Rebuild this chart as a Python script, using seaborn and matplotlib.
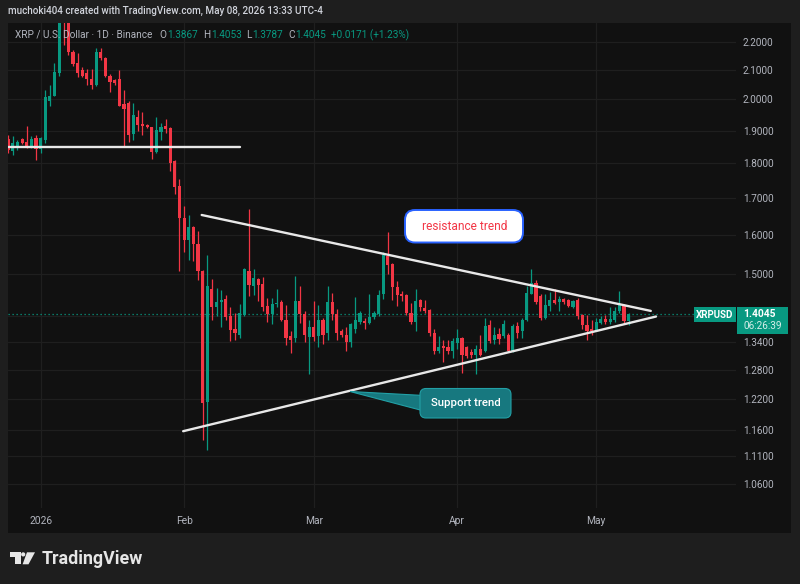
import matplotlib
matplotlib.use("Agg")
import matplotlib.pyplot as plt
import matplotlib.dates as mdates
import matplotlib.transforms as mtransforms
from matplotlib.patches import FancyBboxPatch, Polygon, Circle, Rectangle
from matplotlib.ticker import FixedLocator, NullLocator, FixedFormatter
import numpy as np
import pandas as pd
import seaborn as sns

# ---------------- data ----------------
dates = pd.date_range("2025-12-25", "2026-05-08", freq="D")

opens = [1.875, 1.838, 1.846, 1.874, 1.864, 1.849, 1.876,
         1.842, 1.872, 1.995, 2.012, 2.089, 2.330, 2.285, 2.164, 2.123, 2.098,
         2.089, 2.070, 2.047, 2.164, 2.140, 2.080, 2.066, 2.070, 1.985, 1.987,
         1.889, 1.944, 1.922, 1.918, 1.910, 1.833, 1.897, 1.913, 1.907, 1.807,
         1.733,
         1.644, 1.587, 1.620, 1.575, 1.508, 1.215, 1.464, 1.421, 1.431, 1.439,
         1.399, 1.370, 1.357, 1.402, 1.508, 1.470, 1.487, 1.476, 1.423, 1.403,
         1.427, 1.431, 1.391, 1.354, 1.350, 1.434, 1.403, 1.352,
         1.375, 1.353, 1.390, 1.360, 1.432, 1.403, 1.364, 1.357, 1.340, 1.370,
         1.386, 1.388, 1.383, 1.396, 1.404, 1.452, 1.544, 1.524, 1.467, 1.450,
         1.448, 1.405, 1.386, 1.436, 1.417, 1.414, 1.360, 1.320, 1.332, 1.329,
         1.321,
         1.338, 1.350, 1.329, 1.318, 1.313, 1.326, 1.321, 1.378, 1.344, 1.358,
         1.353, 1.356, 1.321, 1.376, 1.364, 1.390, 1.452, 1.478, 1.447, 1.395,
         1.423, 1.436, 1.431, 1.439, 1.436, 1.420, 1.437, 1.401, 1.379, 1.370,
         1.366, 1.383, 1.393, 1.385, 1.390, 1.410, 1.423, 1.3867]
highs = [1.886, 1.882, 1.872, 1.878, 1.914, 1.882, 1.885,
         1.880, 2.030, 2.050, 2.125, 2.360, 2.410, 2.300, 2.170, 2.158, 2.110,
         2.104, 2.104, 2.176, 2.176, 2.145, 2.086, 2.070, 2.100, 2.030, 1.995,
         1.987, 1.964, 1.960, 1.922, 1.912, 1.942, 1.925, 1.936, 1.910, 1.810,
         1.753,
         1.677, 1.652, 1.622, 1.610, 1.510, 1.548, 1.488, 1.466, 1.460, 1.449,
         1.421, 1.405, 1.427, 1.515, 1.670, 1.513, 1.490, 1.492, 1.441, 1.441,
         1.464, 1.436, 1.425, 1.366, 1.494, 1.470, 1.410, 1.391,
         1.434, 1.425, 1.394, 1.470, 1.454, 1.415, 1.370, 1.373, 1.382, 1.444,
         1.410, 1.395, 1.452, 1.410, 1.460, 1.554, 1.608, 1.526, 1.482, 1.458,
         1.452, 1.430, 1.464, 1.440, 1.437, 1.416, 1.370, 1.354, 1.345, 1.345,
         1.350,
         1.370, 1.352, 1.332, 1.325, 1.333, 1.355, 1.395, 1.390, 1.375, 1.372,
         1.390, 1.360, 1.380, 1.385, 1.395, 1.470, 1.511, 1.485, 1.450, 1.450,
         1.455, 1.463, 1.445, 1.442, 1.440, 1.437, 1.442, 1.403, 1.401, 1.390,
         1.395, 1.400, 1.402, 1.420, 1.420, 1.459, 1.428, 1.4053]
lows = [1.830, 1.826, 1.840, 1.857, 1.845, 1.845, 1.810,
        1.830, 1.862, 1.980, 2.010, 2.080, 2.188, 2.152, 2.115, 2.074, 2.074,
        2.047, 2.036, 2.045, 2.134, 2.074, 2.024, 2.050, 1.978, 1.848, 1.864,
        1.872, 1.900, 1.886, 1.908, 1.813, 1.830, 1.872, 1.893, 1.776, 1.710,
        1.506,
        1.555, 1.535, 1.531, 1.485, 1.140, 1.121, 1.389, 1.399, 1.375, 1.390,
        1.342, 1.345, 1.350, 1.400, 1.447, 1.449, 1.435, 1.411, 1.386, 1.380,
        1.421, 1.388, 1.333, 1.316, 1.340, 1.383, 1.340, 1.271,
        1.342, 1.330, 1.335, 1.345, 1.390, 1.345, 1.352, 1.321, 1.330, 1.360,
        1.380, 1.370, 1.380, 1.393, 1.400, 1.440, 1.500, 1.437, 1.423, 1.435,
        1.402, 1.380, 1.364, 1.410, 1.405, 1.353, 1.315, 1.316, 1.298, 1.315,
        1.305,
        1.325, 1.274, 1.305, 1.306, 1.272, 1.310, 1.318, 1.338, 1.335, 1.337,
        1.350, 1.318, 1.318, 1.350, 1.350, 1.388, 1.450, 1.428, 1.390, 1.392,
        1.410, 1.428, 1.410, 1.428, 1.420, 1.418, 1.392, 1.370, 1.345, 1.355,
        1.364, 1.380, 1.380, 1.380, 1.385, 1.405, 1.380, 1.3787]
closes = [1.840, 1.862, 1.866, 1.861, 1.849, 1.875, 1.842,
          1.876, 2.009, 2.012, 2.092, 2.330, 2.285, 2.164, 2.120, 2.090, 2.080,
          2.070, 2.047, 2.164, 2.140, 2.080, 2.058, 2.056, 1.980, 1.968, 1.886,
          1.948, 1.919, 1.914, 1.911, 1.833, 1.902, 1.912, 1.905, 1.802, 1.731,
          1.644,
          1.585, 1.620, 1.575, 1.508, 1.213, 1.470, 1.420, 1.431, 1.437, 1.396,
          1.368, 1.360, 1.406, 1.511, 1.473, 1.490, 1.473, 1.421, 1.403, 1.428,
          1.430, 1.391, 1.350, 1.344, 1.434, 1.403, 1.357, 1.375,
          1.352, 1.390, 1.356, 1.431, 1.404, 1.361, 1.356, 1.340, 1.380, 1.390,
          1.406, 1.384, 1.397, 1.405, 1.449, 1.548, 1.521, 1.467, 1.448, 1.445,
          1.405, 1.386, 1.434, 1.421, 1.411, 1.360, 1.321, 1.330, 1.327, 1.320,
          1.342,
          1.350, 1.313, 1.310, 1.311, 1.326, 1.312, 1.376, 1.342, 1.356, 1.346,
          1.380, 1.321, 1.376, 1.360, 1.391, 1.454, 1.478, 1.431, 1.395, 1.425,
          1.436, 1.430, 1.440, 1.431, 1.423, 1.434, 1.399, 1.379, 1.364, 1.364,
          1.386, 1.393, 1.386, 1.393, 1.410, 1.425, 1.3874, 1.4045]

price_ticks = [2.2, 2.1, 2.0, 1.9, 1.8, 1.7, 1.6, 1.5, 1.4, 1.34, 1.28, 1.22, 1.16, 1.11, 1.06]
month_ticks = ["2026-01-01", "2026-02-01", "2026-03-01", "2026-04-01", "2026-05-01"]
month_labels = ["2026", "Feb", "Mar", "Apr", "May"]

hline_dates = ["2025-12-25 00:00", "2026-02-13 02:00"]
hline_prices = [1.849, 1.849]
resist_dates = ["2026-02-04 19:00", "2026-05-12 19:00"]
resist_prices = [1.653, 1.411]
support_dates = ["2026-01-31 19:00", "2026-05-13 22:00"]
support_prices = [1.157, 1.398]

last_price = 1.4045

# ---------------- style ----------------
sns.set_theme(style="dark")
plt.rcParams["font.family"] = ["Roboto", "DejaVu Sans"]

GREEN = "#089981"
RED = "#f23645"
FRAME = "#1e1e1e"
PANEL = "#111111"
GRID = "#1f1f1f"
TXT = "#b2b5be"

fig = plt.figure(figsize=(8, 5.84), dpi=100, facecolor=FRAME)
T = mtransforms.Affine2D().scale(0.01, -0.01).translate(0, 5.84) + fig.dpi_scale_trans

fig.add_artist(Rectangle((8, 23), 783, 510, transform=T, facecolor=PANEL,
                         edgecolor="none", zorder=-5))

ax = fig.add_axes([8 / 800, 1 - 508 / 584, (735.7 - 8) / 800, (508 - 23) / 584])
ax.set_facecolor(PANEL)
for s in ax.spines.values():
    s.set_visible(False)

x = mdates.date2num(dates.to_pydatetime())
o = np.array(opens); h = np.array(highs); l = np.array(lows); c = np.array(closes)
cols = np.where(c >= o, GREEN, RED)

ax.vlines(x, l, h, colors=cols, lw=0.9, zorder=3)
bottom = np.minimum(o, c)
height = np.maximum(np.abs(c - o), bottom * 0.0018)
ax.bar(x, height, bottom=bottom, width=0.68, color=cols, lw=0, zorder=4)

def dnum(lst):
    return mdates.date2num(pd.to_datetime(lst).to_pydatetime())

for dl, pl in [(hline_dates, hline_prices), (resist_dates, resist_prices),
               (support_dates, support_prices)]:
    sns.lineplot(x=dnum(dl), y=pl, ax=ax, color="#e8e8e8", lw=1.7, zorder=6)

ax.axhline(last_price, color=GREEN, ls=(0, (1, 2.2)), lw=0.9, zorder=2)

ax.set_yscale("log")
base = mdates.date2num(pd.Timestamp("2026-01-01").to_pydatetime())
ax.set_xlim(base - 7.04, base + 150.13)
ax.set_ylim(1.0193, 2.269)

ax.yaxis.tick_right()
ax.yaxis.set_major_locator(FixedLocator(price_ticks))
ax.yaxis.set_minor_locator(NullLocator())
ax.yaxis.set_major_formatter(FixedFormatter(["" if abs(v - 1.4) < 1e-9 else f"{v:.4f}" for v in price_ticks]))
ax.tick_params(axis="y", length=0, pad=5.3, labelsize=7.2, labelcolor=TXT)

ax.xaxis.set_major_locator(FixedLocator(dnum(month_ticks)))
ax.xaxis.set_major_formatter(FixedFormatter(month_labels))
ax.tick_params(axis="x", length=0, pad=6.0, labelsize=7.4, labelcolor=TXT)
ax.set_xlabel(""); ax.set_ylabel("")
ax.grid(True, color=GRID, lw=0.9, zorder=0)
ax.set_axisbelow(True)

# ---------------- header texts ----------------
fig.text(8, 11, "muchoki404 created with TradingView.com, May 08, 2026 13:33 UTC-4",
         transform=T, color="#d1d4dc", fontsize=7.15, va="center", ha="left", fontweight="medium")

renderer = fig.canvas.get_renderer()
legend_parts = [("XRP / U.S. Dollar \u00b7 1D \u00b7 Binance", TXT, 7.5),
                ("O", TXT, 0.5), ("1.3867", GREEN, 5.0),
                ("H", TXT, 0.5), ("1.4053", GREEN, 5.0),
                ("L", TXT, 0.5), ("1.3787", GREEN, 5.0),
                ("C", TXT, 0.5), ("1.4045", GREEN, 5.5),
                ("+0.0171 (+1.23%)", GREEN, 0.0)]
xp = 15.0
for s, col, gap in legend_parts:
    t = fig.text(xp, 35, s, transform=T, color=col, fontsize=7.2, va="center", ha="left", zorder=10)
    bb = t.get_window_extent(renderer)
    xp += bb.width * 100.0 / fig.dpi + gap

# ---------------- price labels ----------------
fig.add_artist(Rectangle((694, 307), 41.7, 14.7, transform=T, facecolor=GREEN, edgecolor="none", zorder=8))
fig.text(714.8, 314.5, "XRPUSD", transform=T, color="white", fontsize=7, fontweight="bold",
         ha="center", va="center", zorder=9)
fig.add_artist(Rectangle((737, 307), 50.5, 26.5, transform=T, facecolor=GREEN, edgecolor="none", zorder=8))
fig.text(743, 314, "1.4045", transform=T, color="white", fontsize=7.4, fontweight="bold",
         ha="left", va="center", zorder=9)
fig.text(743, 326, "06:26:39", transform=T, color="#d6eee9", fontsize=7.2,
         ha="left", va="center", zorder=9)

# ---------------- annotations ----------------
fig.add_artist(FancyBboxPatch((405, 210), 118, 32.5, boxstyle="round,pad=0,rounding_size=10",
                              transform=T, facecolor="white", edgecolor="#2962ff", lw=1.4, zorder=8))
fig.text(464.5, 226.5, "resistance trend", transform=T, color=RED, fontsize=8.6,
         ha="center", va="center", zorder=9)

TEAL = "#17787f"
fig.add_artist(Polygon([(350, 391.5), (424, 395.5), (424, 411)], closed=True, transform=T,
                       facecolor=TEAL, edgecolor="#22a0a6", lw=0.8, zorder=8))
fig.add_artist(FancyBboxPatch((420, 388.5), 91, 29.5, boxstyle="round,pad=0,rounding_size=6",
                              transform=T, facecolor=TEAL, edgecolor="#22a0a6", lw=0.8, zorder=8))
fig.text(465.5, 403.5, "Support trend", transform=T, color="white", fontsize=8.2, fontweight="medium",
         ha="center", va="center", zorder=9)

# ---------------- TradingView logo ----------------
LOGO = "#e6e6e6"
fig.add_artist(Polygon([(10, 552.3), (20.8, 552.3), (20.8, 564.3), (15, 564.3), (15, 556.8), (10, 556.8)],
                       closed=True, transform=T, facecolor=LOGO, edgecolor="none", zorder=8))
fig.add_artist(Circle((23.2, 554.4), 2.1, transform=T, facecolor=LOGO, edgecolor="none", zorder=8))
fig.add_artist(Polygon([(27, 552.3), (35, 552.3), (28.5, 564.3), (22.6, 564.3)],
                       closed=True, transform=T, facecolor=LOGO, edgecolor="none", zorder=8))
fig.text(41.5, 558.5, "TradingView", transform=T, color=LOGO, fontsize=12.8, fontweight="bold",
         ha="left", va="center", zorder=9)

fig.savefig("out.png", dpi=100, facecolor=FRAME)
